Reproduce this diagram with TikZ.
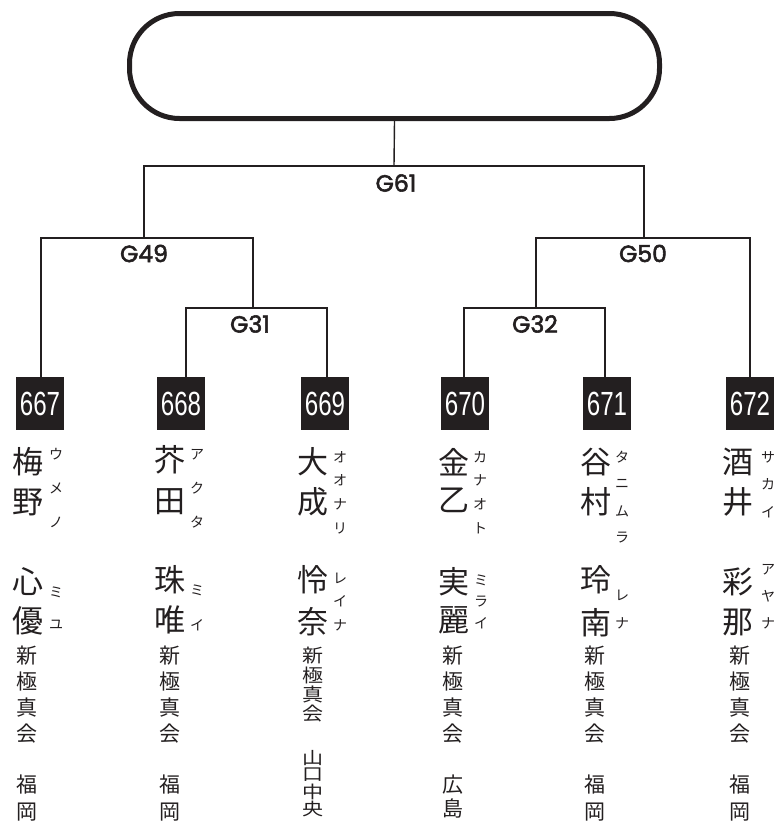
\documentclass[tikz,border=0pt]{standalone}
\usepackage{fontspec}
\usepackage{graphicx}
\setmainfont{Poppins}
\newfontfamily\numfont{Liberation Sans}
\newfontfamily\jpfont{Noto Sans CJK JP}
\definecolor{ink}{RGB}{35,31,32}
\newcommand\medtext[1]{\special{pdf:literal direct 2 Tr 0.55 w}#1\special{pdf:literal direct 0 Tr}}
\newcommand\vcol[7]{%
  \foreach \c [count=\i from 0] in {#6} {
    \node[jpchar, font=\jpfont\fontsize{#5}{#5}\selectfont] (#1\i) at (#2, #3+\i*#4) {\scalebox{1}[#7]{\c}};
  }%
}
\begin{document}
\begin{tikzpicture}[x=1pt,y=-1pt,
  conn/.style={line width=1.4pt, draw=ink},
  glabel/.style={inner sep=0pt, text=ink, font=\fontsize{23.5}{23.5}\selectfont},
  numbox/.style={fill=ink, minimum width=48pt, minimum height=53pt, inner sep=0pt, text=white,
    font=\numfont\fontsize{33.5}{33.5}\selectfont},
  jpchar/.style={inner sep=0pt, text=ink},
  topbox/.style={draw=ink, line width=5pt, rounded corners=50pt, minimum width=530pt, minimum height=105pt, inner sep=0pt}
]
\useasboundingbox (0,0) rectangle (779,822);

% top box
\node[topbox] (top) at (394.5,66) {};

% junctions
\coordinate (j61) at (394,166);
\coordinate (j49) at (144,238);
\coordinate (j50) at (644,238);
\coordinate (j31) at (253,308);
\coordinate (j32) at (536,308);

% number boxes
\node[numbox] (n667) at (40,403.5) {\scalebox{0.72}[1]{667}};
\node[numbox] (n668) at (181,403.5) {\scalebox{0.72}[1]{668}};
\node[numbox] (n669) at (325,403.5) {\scalebox{0.72}[1]{669}};
\node[numbox] (n670) at (465,403.5) {\scalebox{0.72}[1]{670}};
\node[numbox] (n671) at (607,403.5) {\scalebox{0.72}[1]{671}};
\node[numbox] (n672) at (750,403.5) {\scalebox{0.72}[1]{672}};

% line ends on box tops
\coordinate (t667) at (41,377);
\coordinate (t668) at (186,377);
\coordinate (t669) at (327,377);
\coordinate (t670) at (464,377);
\coordinate (t671) at (605,377);
\coordinate (t672) at (750,377);

% connectors
\draw[conn] (top.south) -- (j61);
\draw[conn] (j49) |- (j61) -| (j50);
\draw[conn] (t667) |- (j49) -| (j31);
\draw[conn] (t668) |- (j31) -| (t669);
\draw[conn] (j32) |- (j50) -| (t672);
\draw[conn] (t670) |- (j32) -| (t671);

% match labels
\node[glabel] (g61) at (396,183) {\medtext{G61}};
\node[glabel] (g49) at (144,253.5) {\medtext{G49}};
\node[glabel] (g50) at (643,253.5) {\medtext{G50}};
\node[glabel] (g31) at (250,324) {\medtext{G31}};
\node[glabel] (g32) at (535,324) {\medtext{G32}};

% column 667
\vcol{as}{28}{462}{40}{31}{梅,野}{1}
\vcol{ak}{56}{454}{34}{14}{ウ,メ,ノ}{1}
\vcol{ag}{28}{582}{39}{31}{心,優}{1}
\vcol{agk}{56}{592}{33}{14}{ミ,ユ}{1}
\vcol{aa}{27}{656}{25.7}{21}{新,極,真,会}{1}
\vcol{ap}{27}{785}{27}{21}{福,岡}{1}

% column 668
\vcol{bs}{170}{460}{42}{31}{芥,田}{1}
\vcol{bk}{197}{455}{33.5}{14}{ア,ク,タ}{1}
\vcol{bg}{170}{580}{40}{31}{珠,唯}{1}
\vcol{bgk}{197}{590}{35}{14}{ミ,イ}{1}
\vcol{ba}{170}{656}{25.7}{21}{新,極,真,会}{1}
\vcol{bp}{170}{785}{27}{21}{福,岡}{1}

% column 669
\vcol{cs}{313}{462}{40}{31}{大,成}{1}
\vcol{ck}{340}{457}{23.7}{14}{オ,オ,ナ,リ}{1}
\vcol{cg}{313}{580}{42}{31}{怜,奈}{1}
\vcol{cgk}{340}{578}{23.5}{14}{レ,イ,ナ}{1}
\vcol{ca}{313}{656}{19.3}{21}{新,極,真,会}{0.88}
\vcol{cp}{313}{758}{17}{21}{山,口,中,央}{0.82}

% column 670
\vcol{ds}{454}{462}{38}{31}{金,乙}{1}
\vcol{dk}{480}{457}{23.7}{14}{カ,ナ,オ,ト}{1}
\vcol{dg}{454}{582}{38}{31}{実,麗}{1}
\vcol{dgk}{481}{580}{21.5}{14}{ミ,ラ,イ}{1}
\vcol{da}{453}{656}{25.7}{21}{新,極,真,会}{1}
\vcol{dp}{453}{785}{23}{21}{広,島}{1}

% column 671
\vcol{es}{596}{462}{40}{31}{谷,村}{1}
\vcol{ek}{622}{457}{27}{14}{タ,ニ,ム,ラ}{1}
\vcol{eg}{596}{580}{43}{31}{玲,南}{1}
\vcol{egk}{622}{595}{28}{14}{レ,ナ}{1}
\vcol{ea}{595}{656}{25.7}{21}{新,極,真,会}{1}
\vcol{ep}{595}{785}{27}{21}{福,岡}{1}

% column 672
\vcol{fs}{738}{462}{40}{31}{酒,井}{1}
\vcol{fk}{768}{457}{27.5}{14}{サ,カ,イ}{1}
\vcol{fg}{738}{582}{40}{31}{彩,那}{1}
\vcol{fgk}{768}{570}{26.5}{14}{ア,ヤ,ナ}{1}
\vcol{fa}{740}{656}{25.7}{21}{新,極,真,会}{1}
\vcol{fp}{740}{785}{27}{21}{福,岡}{1}
\end{tikzpicture}
\end{document}
